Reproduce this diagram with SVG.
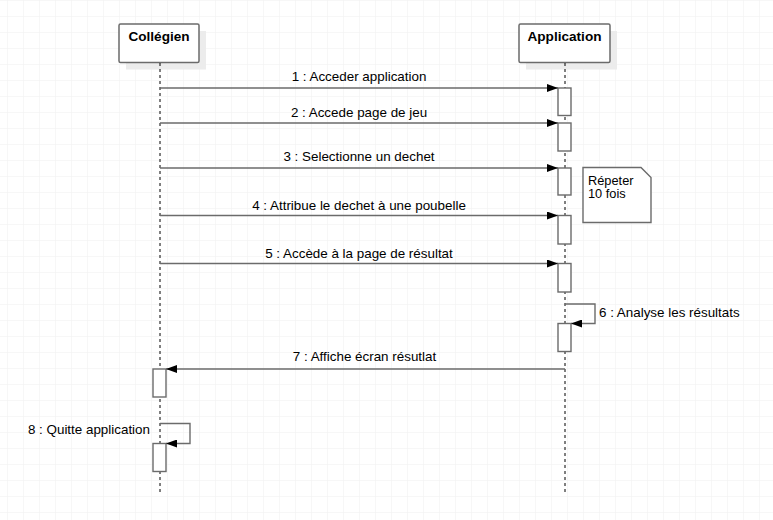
<svg xmlns="http://www.w3.org/2000/svg" width="773" height="520" viewBox="0 0 773 520">
<defs>
<pattern id="grid" x="7" y="0" width="16" height="16" patternUnits="userSpaceOnUse">
<path d="M0 0H16M0 0V16" fill="none" stroke="#efefef" stroke-width="1"/>
</pattern>
<marker id="arr" viewBox="0 0 11 8" refX="11" refY="4" markerWidth="11" markerHeight="8" markerUnits="userSpaceOnUse" orient="auto">
<path d="M0 0L11 4L0 8Z" fill="#000"/>
</marker>
<style>
.hdr{fill:#fff;stroke:#6b6b6b;stroke-width:1.5}
.shd{fill:#ececec}
.life{stroke:#000;stroke-width:1;stroke-dasharray:3 3;fill:none}
.act{fill:#fff;stroke:#6b6b6b;stroke-width:1.4}
.msg{stroke:#6b6b6b;stroke-width:1.4;fill:none;marker-end:url(#arr)}
.t{font-family:"Liberation Sans",Arial,sans-serif;font-size:13.4px;fill:#000}
.b{font-weight:bold;text-anchor:middle;font-size:13.6px}
.c{text-anchor:middle}
.n{font-size:12.8px}
</style>
</defs>
<rect width="773" height="520" fill="#fff"/>
<rect width="773" height="520" fill="url(#grid)"/>

<g id="collegien">
<rect class="shd" x="126" y="31" width="80" height="38.5"/>
<rect class="hdr" x="119" y="24" width="80" height="38.5" rx="1.5"/>
<text class="t b" x="159" y="41">Collégien</text>
<line class="life" x1="160" y1="63" x2="160" y2="493"/>
</g>

<g id="application">
<rect class="shd" x="526" y="31" width="91" height="38.5"/>
<rect class="hdr" x="519" y="24" width="91" height="38.5" rx="1.5"/>
<text class="t b" x="564.5" y="41">Application</text>
<line class="life" x1="565" y1="63" x2="565" y2="493"/>
</g>

<g id="activations">
<rect class="act" x="558" y="88" width="13" height="27.5"/>
<rect class="act" x="558" y="123" width="13" height="28"/>
<rect class="act" x="558" y="168" width="13" height="27"/>
<rect class="act" x="558" y="215.5" width="13" height="28.5"/>
<rect class="act" x="558" y="263.5" width="13" height="28.5"/>
<rect class="act" x="558" y="323.5" width="13" height="28"/>
<rect class="act" x="153" y="369" width="13" height="28"/>
<rect class="act" x="153" y="443.5" width="13" height="28"/>
</g>

<g id="note">
<path d="M583 167.5H641L651 177.5V222.5H583Z" fill="#fff" stroke="#6b6b6b" stroke-width="1.4"/>
<text class="t n" x="588" y="184.5">Répeter</text>
<text class="t n" x="588" y="198">10 fois</text>
</g>

<g id="connectors">
<line class="msg" x1="160" y1="88" x2="558" y2="88"/>
<line class="msg" x1="160" y1="123" x2="558" y2="123"/>
<line class="msg" x1="160" y1="168" x2="558" y2="168"/>
<line class="msg" x1="160" y1="215.5" x2="558" y2="215.5"/>
<line class="msg" x1="160" y1="263.5" x2="558" y2="263.5"/>
<polyline class="msg" points="565,304 595,304 595,323.5 571,323.5"/>
<line class="msg" x1="565" y1="369" x2="166" y2="369"/>
<polyline class="msg" points="160,423.5 190,423.5 190,443.5 166,443.5"/>
</g>

<g id="labels">
<text class="t c" x="359" y="80.5">1 : Acceder application</text>
<text class="t c" x="359" y="116.5">2 : Accede page de jeu</text>
<text class="t c" x="359" y="160.5">3 : Selectionne un dechet</text>
<text class="t c" x="359" y="209.5">4 : Attribue le dechet à une poubelle</text>
<text class="t c" x="359" y="257.5">5 : Accède à la page de résultat</text>
<text class="t" x="599" y="317">6 : Analyse les résultats</text>
<text class="t c" x="364.5" y="360.5">7 : Affiche écran résutlat</text>
<text class="t" x="150" y="434" text-anchor="end">8 : Quitte application</text>
</g>
</svg>
